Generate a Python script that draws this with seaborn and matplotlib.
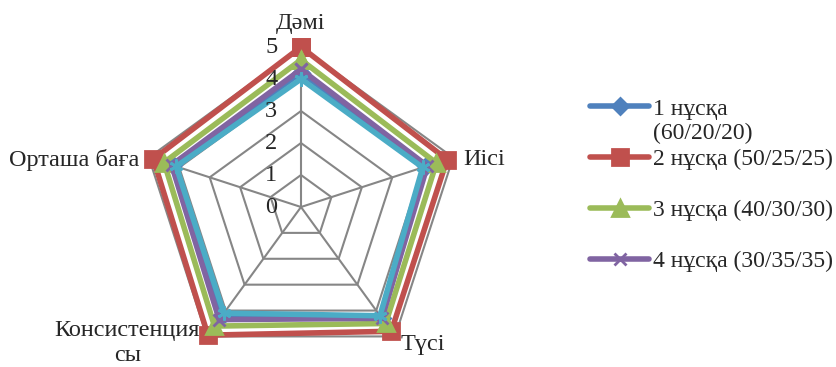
import numpy as np
import pandas as pd
import seaborn as sns
import matplotlib.pyplot as plt
from matplotlib.lines import Line2D

categories = ['Дәмі', 'Иісі', 'Түсі', 'Консистенция\nсы', 'Орташа баға']
series_names = ['1 нұсқа (60/20/20)', '2 нұсқа (50/25/25)', '3 нұсқа (40/30/30)',
                '4 нұсқа (30/35/35)', '5 нұсқа']
v1 = [4.2, 4.1, 4.3, 4.25, 4.2]
v2 = [5.0, 4.8, 4.8, 4.95, 4.85]
v3 = [4.6, 4.45, 4.5, 4.6, 4.5]
v4 = [4.3, 4.15, 4.3, 4.35, 4.25]
v5 = [4.0, 4.0, 4.2, 4.1, 4.1]
r_ticks = [0, 1, 2, 3, 4, 5]

colors = ['#4F81BD', '#C0504D', '#9BBB59', '#8064A2', '#4BACC6']
markers = ['D', 's', '^', 'x', (6, 2, 0)]
msizes = [8, 11, 11, 9, 10]

sns.set_style("white")
plt.rcParams['font.family'] = ['Liberation Serif', 'DejaVu Serif']

n = len(categories)
angles = np.linspace(0, 2 * np.pi, n, endpoint=False)
angles_closed = np.append(angles, 2 * np.pi)

fig = plt.figure(figsize=(8.37, 3.67), dpi=100)
# square axes, 320 px across, centred at (301, 207) from top-left
ax = fig.add_axes([0.16846, 0.0, 0.3823, 0.8719], projection='polar')
ax.set_theta_offset(np.pi / 2)
ax.set_theta_direction(-1)
ax.set_ylim(0, 5)
ax.grid(False)
ax.set_xticks([])
ax.set_yticks([])
ax.spines['polar'].set_visible(False)

grid_c = '#868686'
for r in r_ticks[1:]:
    ax.plot(angles_closed, [r] * (n + 1), color=grid_c, lw=1.5, zorder=1, clip_on=False)
for a in angles:
    ax.plot([a, a], [0, 5], color=grid_c, lw=1.5, zorder=1, clip_on=False)

lw = 4.0
for name, vals, c, m, ms in zip(series_names, [v1, v2, v3, v4, v5], colors, markers, msizes):
    d = pd.DataFrame({'theta': angles_closed, 'value': vals + vals[:1]})
    sns.lineplot(data=d, x='theta', y='value', ax=ax, sort=False, estimator=None,
                 color=c, lw=lw, marker=m, markersize=ms, markeredgecolor=c,
                 markerfacecolor=c, markeredgewidth=2, clip_on=False, zorder=3)
ax.set_xlabel('')
ax.set_ylabel('')

fs = 17.5
for r in r_ticks:
    ax.annotate(str(r), (0, r), xytext=(-17, 0), textcoords='offset points',
                ha='right', va='center', fontsize=fs)

ax.text(angles[0], 5.75, categories[0], ha='center', va='center', fontsize=fs)
ax.annotate(categories[1], (angles[1], 5), xytext=(7, -1.5), textcoords='offset points',
            ha='left', va='center', fontsize=fs)
ax.text(angles[2], 5.3, categories[2], ha='left', va='center', fontsize=fs)
ax.annotate(categories[3], (angles[3], 5), xytext=(-5, -5), textcoords='offset points',
            ha='right', va='center', fontsize=fs, multialignment='center',
            linespacing=1.25)
ax.annotate(categories[4], (angles[4], 5), xytext=(-6.5, -1.5), textcoords='offset points',
            ha='right', va='center', fontsize=fs)

lfs = 17
handles = [Line2D([], [], color=c, lw=lw, marker=m, markersize=ms,
                  markeredgecolor=c, markerfacecolor=c, markeredgewidth=2)
           for c, m, ms in zip(colors[:4], markers[:4], msizes[:4])]
labels = ['1 нұсқа', series_names[1], series_names[2], series_names[3]]
fig.legend(handles, labels, loc='upper left', bbox_to_anchor=(0.705, 0.733),
           frameon=False, fontsize=lfs, borderpad=0, borderaxespad=0,
           handlelength=2.5, handletextpad=0.15, labelspacing=1.24)
fig.text(0.780, 0.6376, '(60/20/20)', ha='left', va='center', fontsize=lfs)

fig.savefig('out.png', dpi=100, facecolor='white')
